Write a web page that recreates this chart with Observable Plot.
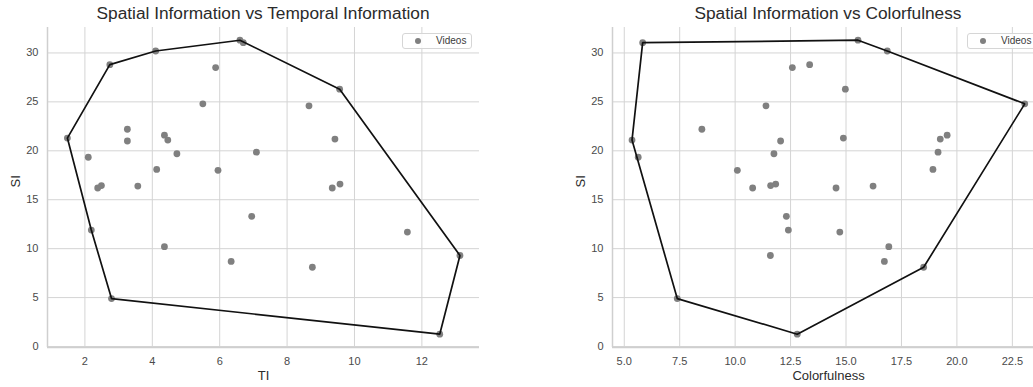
<!DOCTYPE html>
<html>
<head>
<meta charset="utf-8">
<script src="https://cdn.jsdelivr.net/npm/d3@7"></script>
<script src="https://cdn.jsdelivr.net/npm/@observablehq/plot@0.6"></script>
<style>
  html, body { margin: 0; padding: 0; background: #fff; overflow: hidden; }
  #page { position: relative; width: 1033px; height: 387px; overflow: hidden; font-family: "Liberation Sans", Arial, sans-serif; }
  .panel { position: absolute; top: 0; width: 490px; height: 387px; }
  .panel svg { max-width: none !important; width: 490px; height: 387px; }
  .title { position: absolute; top: 3px; font-size: 17.3px; color: #2b2b2b; white-space: nowrap; transform: translateX(-50%); }
  .legend { position: absolute; top: 33px; width: 70px; height: 16px; border: 1px solid #d6d6d6; border-radius: 3px; background: rgba(255,255,255,0.85); box-sizing: border-box; }
  .legend .dot { position: absolute; left: 12px; top: 4px; width: 6px; height: 6px; border-radius: 50%; background: #808080; }
  .legend .lbl { position: absolute; left: 33px; top: 1px; font-size: 10px; color: #3a3a3a; }
</style>
</head>
<body>
<div id="page"></div>
<script>
// ---- data (one entry per video) ----
const ti = [1.48, 2.74, 4.10, 6.60, 6.70, 9.56, 13.13, 12.53, 2.79, 2.19, 2.10, 2.38, 2.49, 3.26, 3.26, 3.57, 4.13, 4.36, 4.46, 4.73, 5.50, 5.88, 5.95, 7.09, 8.65, 9.42, 9.34, 9.57, 4.36, 6.34, 6.95, 8.75, 11.57];
const si = [21.3, 28.8, 30.2, 31.3, 31.05, 26.3, 9.3, 1.26, 4.9, 11.9, 19.34, 16.2, 16.45, 22.2, 21.0, 16.4, 18.1, 21.6, 21.1, 19.7, 24.8, 28.5, 18.0, 19.86, 24.6, 21.2, 16.2, 16.6, 10.2, 8.7, 13.3, 8.1, 11.7];
const colorfulness = [14.88, 13.36, 16.86, 15.54, 5.83, 14.97, 11.59, 12.80, 7.39, 12.40, 5.63, 10.79, 11.60, 8.50, 12.05, 16.22, 18.92, 19.56, 5.35, 11.75, 23.06, 12.58, 10.10, 19.15, 11.39, 19.25, 14.55, 11.83, 16.93, 16.73, 12.31, 18.50, 14.72];

const tiTicks = [2, 4, 6, 8, 10, 12];
const colorTicks = [5.0, 7.5, 10.0, 12.5, 15.0, 17.5, 20.0, 22.5];
const siTicks = [0, 5, 10, 15, 20, 25, 30];

const titles = ["Spatial Information vs Temporal Information", "Spatial Information vs Colorfulness"];
const xLabels = ["TI", "Colorfulness"];
const yLabel = "SI";
const legendLabel = "Videos";

const videos = si.map((s, i) => ({ti: ti[i], si: s, colorfulness: colorfulness[i]}));

const font = '"Liberation Sans", Arial, sans-serif';
const page = document.getElementById("page");

function panel(xKey, xDomain, xTicks, xFormat, xLabel, title, left) {
  const chart = Plot.plot({
    width: 490, height: 387,
    marginTop: 27, marginBottom: 40, marginLeft: 47, marginRight: 11,
    style: {fontFamily: font, fontSize: "11px", color: "#4a4a4a", background: "transparent", maxWidth: "none"},
    x: {domain: xDomain},
    y: {domain: [-0.1, 32.6]},
    marks: [
      Plot.gridX(xTicks, {stroke: "#d4d4d4", strokeOpacity: 1, strokeWidth: 1}),
      Plot.gridY(siTicks, {stroke: "#d4d4d4", strokeOpacity: 1, strokeWidth: 1}),
      Plot.ruleX([xDomain[0]], {stroke: "#cfcfcf", strokeWidth: 1.5}),
      Plot.ruleY([-0.1], {stroke: "#cfcfcf", strokeWidth: 1.5}),
      Plot.axisX(xTicks, {tickSize: 0, tickPadding: 10, tickFormat: xFormat, label: null}),
      Plot.axisY(siTicks, {tickSize: 0, tickPadding: 9, label: null}),
      Plot.dot(videos, {x: xKey, y: "si", r: 3.4, fill: "#808080", stroke: "none"}),
      Plot.hull(videos, {x: xKey, y: "si", stroke: "#111", strokeWidth: 1.7}),
      Plot.text([xLabel], {frameAnchor: "bottom", dy: 32, fontSize: 13, fill: "#2b2b2b"}),
      Plot.text([yLabel], {frameAnchor: "left", dx: -32, rotate: -90, fontSize: 13, fill: "#2b2b2b"})
    ]
  });
  const wrap = document.createElement("div");
  wrap.className = "panel";
  wrap.style.left = left + "px";
  wrap.appendChild(chart);
  page.appendChild(wrap);

  const t = document.createElement("div");
  t.className = "title";
  t.textContent = title;
  t.style.left = (left + 47 + 216) + "px";
  page.appendChild(t);

  const lg = document.createElement("div");
  lg.className = "legend";
  lg.style.left = (left + 47 + 432 - 77) + "px";
  lg.innerHTML = '<span class="dot"></span><span class="lbl"></span>';
  lg.querySelector(".lbl").textContent = legendLabel;
  page.appendChild(lg);
}

panel("ti", [0.89, 13.71], tiTicks, d => String(d), xLabels[0], titles[0], 0);
panel("colorfulness", [4.47, 23.95], colorTicks, d3.format(".1f"), xLabels[1], titles[1], 565);
</script>
</body>
</html>
